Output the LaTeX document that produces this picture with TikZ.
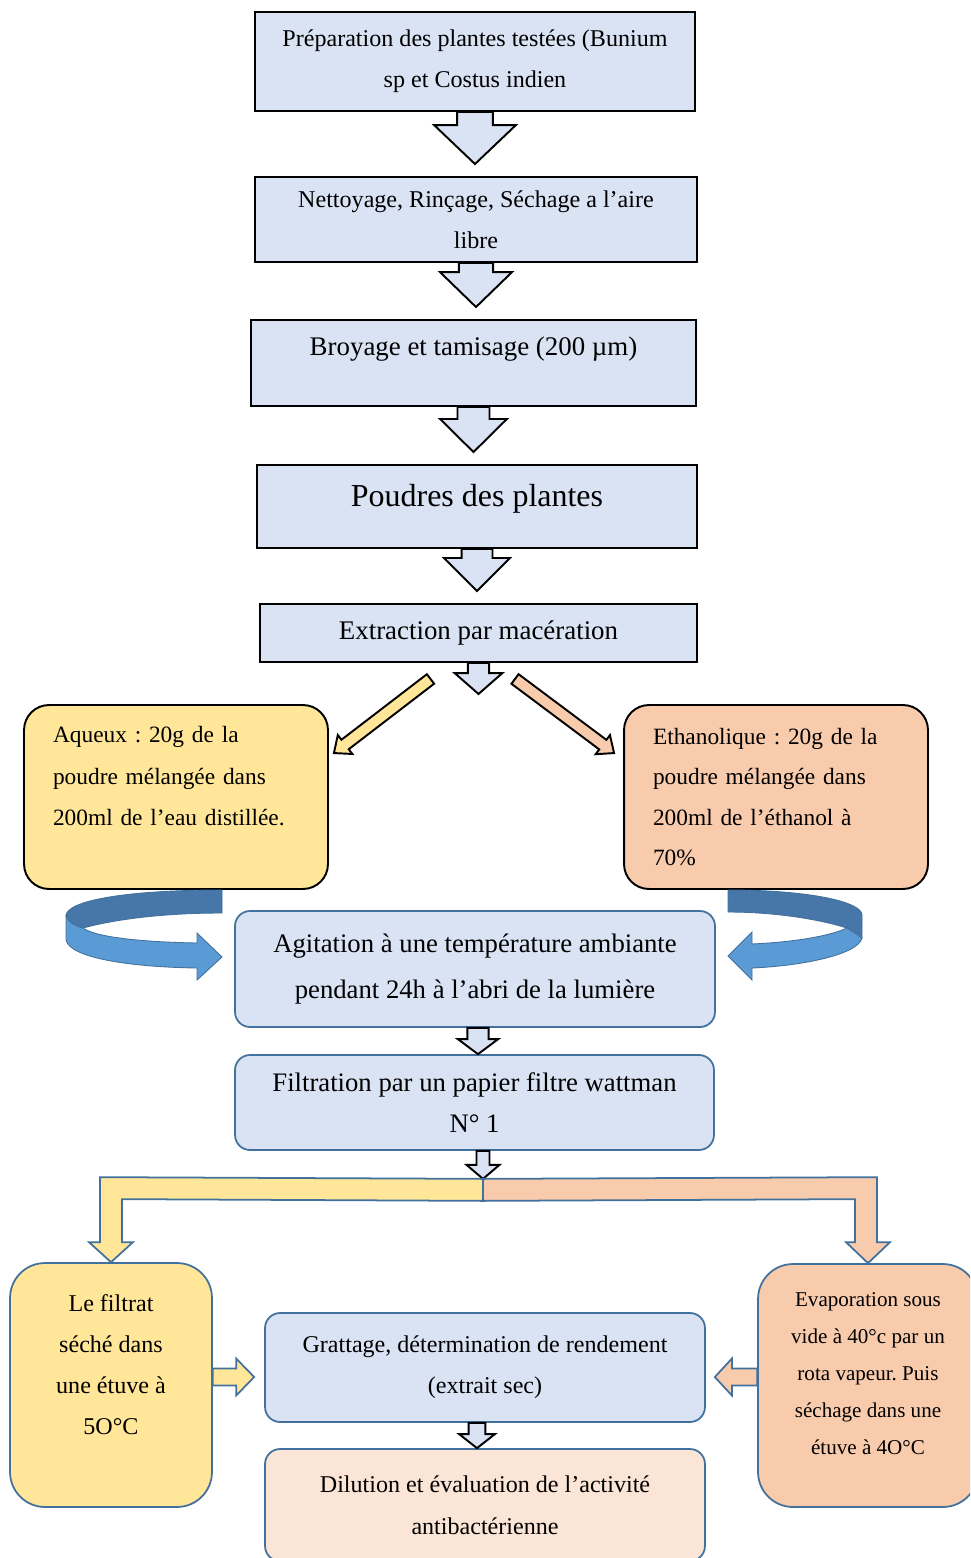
\documentclass[tikz,border=0pt]{standalone}
\usepackage{fontspec}
\setmainfont{Liberation Serif}
\usepackage{xcolor}
\usetikzlibrary{calc}
\frenchspacing

\definecolor{boxblue}{HTML}{DAE3F3}
\definecolor{boxyellow}{HTML}{FFE699}
\definecolor{boxorange}{HTML}{F8CBAD}
\definecolor{boxpeach}{HTML}{FBE5D6}
\definecolor{edgeblue}{HTML}{41719C}
\definecolor{ribbondark}{HTML}{4677A8}
\definecolor{ribbonlight}{HTML}{5B9BD5}

\tikzset{
	stepbox/.style={draw=black, line width=1.1pt, fill=boxblue, align=center, inner sep=0pt},
	solvbox/.style={draw=black, line width=1.1pt, rounded corners=0.5cm, align=left, inner xsep=0.58cm, inner ysep=0pt, text width=4.92cm, minimum height=3.68cm, font=\fontsize{13.3}{23.6}\selectfont},
	roundbox/.style={draw=edgeblue, line width=1pt, align=center, inner sep=0pt},
	darrow/.style={draw=black, line width=1.1pt, fill=boxblue},
	branch/.style={draw=edgeblue, line width=1pt},
	ribbon/.style={draw=edgeblue, line width=0.5pt},
}

% block arrow: start, tip, shaft half width, head half width, head length, style
\newcommand{\blockarrow}[6]{%
	\coordinate (ba-s) at (#1);
	\coordinate (ba-t) at (#2);
	\coordinate (ba-h) at ($(ba-t)!#5!(ba-s)$);
	\draw[#6] ($(ba-s)!#3!90:(ba-t)$) -- ($(ba-h)!#3!90:(ba-t)$) -- ($(ba-h)!#4!90:(ba-t)$) -- (ba-t)
		-- ($(ba-h)!#4!-90:(ba-t)$) -- ($(ba-h)!#3!-90:(ba-t)$) -- ($(ba-s)!#3!-90:(ba-t)$) -- cycle;
}

\begin{document}
\begin{tikzpicture}[x=0.02cm, y=-0.02cm]
	\clip (0,0) rectangle (970,1558);
	\fill[white] (0,0) rectangle (970,1558);
	
	% main chain
	\node[stepbox, minimum width=8.8cm, minimum height=1.98cm, font=\fontsize{13.7}{23.3}\selectfont] (prep) at (475,61.5) {Préparation des plantes testées (Bunium\\sp et Costus indien};
	\node[stepbox, minimum width=8.84cm, minimum height=1.7cm, font=\fontsize{13.7}{23.3}\selectfont] (nett) at (476,219.5) {Nettoyage, Rinçage, Séchage a l’aire\\libre};
	\node[stepbox, minimum width=8.9cm, minimum height=1.72cm, font=\fontsize{15.3}{20}\selectfont, text height=10pt, text depth=18pt] (broy) at (473.5,363) {Broyage et tamisage (200 µm)};
	\node[stepbox, minimum width=8.8cm, minimum height=1.66cm, font=\fontsize{18.2}{22}\selectfont, text height=11pt, text depth=10.5pt] (poud) at (477,506.5) {Poudres des plantes};
	\node[stepbox, minimum width=8.74cm, minimum height=1.16cm, font=\fontsize{15.3}{20}\selectfont] (extr) at (478.5,633) {Extraction par macération};
	
	\foreach \from/\to/\sh/\hh/\hl in {prep/nett/10.2pt/23.3pt/22.2pt, nett/broy/9.7pt/20.5pt/19.9pt, broy/poud/9.1pt/19pt/18.8pt, poud/extr/8.8pt/18.8pt/18.8pt}
		\blockarrow{\from.south}{$(\from.south |- \to.north)+(0,-12)$}{\sh}{\hh}{\hl}{darrow};
	\blockarrow{extr.south}{$(extr.south)+(0,31)$}{6pt}{13.6pt}{11.9pt}{darrow}
	
	% the two solvents
	\node[solvbox, fill=boxyellow] (aqu) at (176,797) {Aqueux : 20g de la\\poudre mélangée dans\\200ml de l’eau distillée.\\\mbox{}};
	\node[solvbox, fill=boxorange, font=\fontsize{13.3}{23}\selectfont] (eth) at (776,797) {Ethanolique : 20g de la\\poudre mélangée dans\\200ml de l’éthanol à\\70\%};
	
	\coordinate (aqtail) at ($(extr.south)+(-48,16)$);
	\coordinate (aqtip) at ($(aqu.north east)+(5,49)$);
	\coordinate (ettail) at ($(extr.south)+(36.5,16)$);
	\coordinate (ettip) at ($(eth.north west)+(-9,49)$);
	\blockarrow{aqtail}{aqtip}{3.4pt}{6.8pt}{8pt}{darrow, fill=boxyellow}
	\blockarrow{ettail}{ettip}{3.4pt}{6.8pt}{8pt}{darrow, fill=boxorange}
	
	\node[roundbox, fill=boxblue, rounded corners=0.3cm, minimum width=9.6cm, minimum height=2.32cm, font=\fontsize{15.2}{26.6}\selectfont] (agit) at (475,969) {Agitation à une température ambiante\\pendant 24h à l’abri de la lumière};
	
	% curved arrows round the solvents
	\filldraw[ribbon, fill=ribbondark] (222,890) .. controls (130,890) and (66,900) .. (66,916) .. controls (68,922) and (75,926) .. (83,928) .. controls (120,918) and (170,913) .. (222,913) -- cycle;
	\filldraw[ribbon, fill=ribbonlight] (66,916) -- (66,940) .. controls (70,958) and (130,967) .. (197,968) -- (197,980) -- (222,957) -- (197,933) -- (197,943) .. controls (140,942) and (95,937) .. (83,928) .. controls (75,926) and (68,922) .. (66,916) -- cycle;
	\filldraw[ribbon, fill=ribbondark] (728,890) .. controls (810,890) and (862,902) .. (862,915) -- (862,938) .. controls (857,933) and (852,930) .. (847,928) .. controls (815,918) and (770,912) .. (728,912) -- cycle;
	\filldraw[ribbon, fill=ribbonlight] (847,928) -- (862,938) .. controls (858,955) and (800,966) .. (752,968) -- (752,980) -- (728,956) -- (752,932) -- (752,944) .. controls (795,942) and (830,936) .. (847,928) -- cycle;
	
	\node[roundbox, fill=boxblue, rounded corners=0.3cm, minimum width=9.58cm, minimum height=1.9cm, font=\fontsize{15.2}{23.8}\selectfont] (filt) at (474.5,1102.5) {Filtration par un papier filtre wattman\\N° 1};
	\blockarrow{$(agit.south)+(3,0)$}{$(filt.north)+(3.5,0)$}{6pt}{11.4pt}{8.5pt}{darrow}
	
	\coordinate (split) at ($(filt.south)+(8.5,28)$);
	\blockarrow{filt.south -| split}{split}{3.7pt}{9.4pt}{8pt}{darrow}
	
	% last row
	\node[roundbox, fill=boxyellow, rounded corners=0.7cm, minimum width=4.04cm, minimum height=4.88cm, font=\fontsize{13.7}{23.3}\selectfont] (filtrat) at (111,1385) {Le filtrat\\séché dans\\une étuve à\\5O°C\\\mbox{}};
	\node[roundbox, fill=boxorange, rounded corners=0.7cm, minimum width=4.4cm, minimum height=4.86cm, font=\fontsize{12}{21}\selectfont] (evap) at (868,1385.5) {Evaporation sous\\vide à 40°c par un\\rota vapeur. Puis\\séchage dans une\\étuve à 4O°C\\[-7.3pt]\mbox{}};
	\node[roundbox, fill=boxblue, rounded corners=0.3cm, minimum width=8.8cm, minimum height=2.18cm, font=\fontsize{13.7}{23.3}\selectfont] (gratt) at (485,1367.5) {Grattage, détermination de rendement\\(extrait sec)};
	\node[roundbox, fill=boxpeach, rounded corners=0.3cm, minimum width=8.8cm, minimum height=2.24cm, font=\fontsize{13.7}{23.8}\selectfont] (dilu) at (485,1505) {Dilution et évaluation de l’activité\\antibactérienne};
	
	\draw[branch, fill=boxyellow] (split) -- ($(filtrat.north)+(-11,-85)$) -- ($(filtrat.north)+(-11,-20)$) -- ($(filtrat.north)+(-22,-20)$) -- (filtrat.north) -- ($(filtrat.north)+(22,-20)$) -- ($(filtrat.north)+(11,-20)$) -- ($(filtrat.north)+(11,-63)$) -- ($(split)+(0,22)$) -- cycle;
	\draw[branch, fill=boxorange] (split) -- ($(evap.north)+(9,-86)$) -- ($(evap.north)+(9,-21)$) -- ($(evap.north)+(22,-21)$) -- (evap.north) -- ($(evap.north)+(-22,-21)$) -- ($(evap.north)+(-13,-21)$) -- ($(evap.north)+(-13,-64)$) -- ($(split)+(0,22)$) -- cycle;
	
	\blockarrow{$(filtrat.east)+(0,-8)$}{$(gratt.west)+(-10,9.5)$}{4.8pt}{10.5pt}{10.2pt}{branch, fill=boxyellow}
	\blockarrow{$(evap.west)+(0,-8.5)$}{$(gratt.east)+(9,9.5)$}{4.8pt}{10.5pt}{9.7pt}{branch, fill=boxorange}
	\blockarrow{$(gratt.south)+(-8,0)$}{$(dilu.north)+(-8,0)$}{4.8pt}{10.2pt}{8pt}{darrow}
\end{tikzpicture}
\end{document}
